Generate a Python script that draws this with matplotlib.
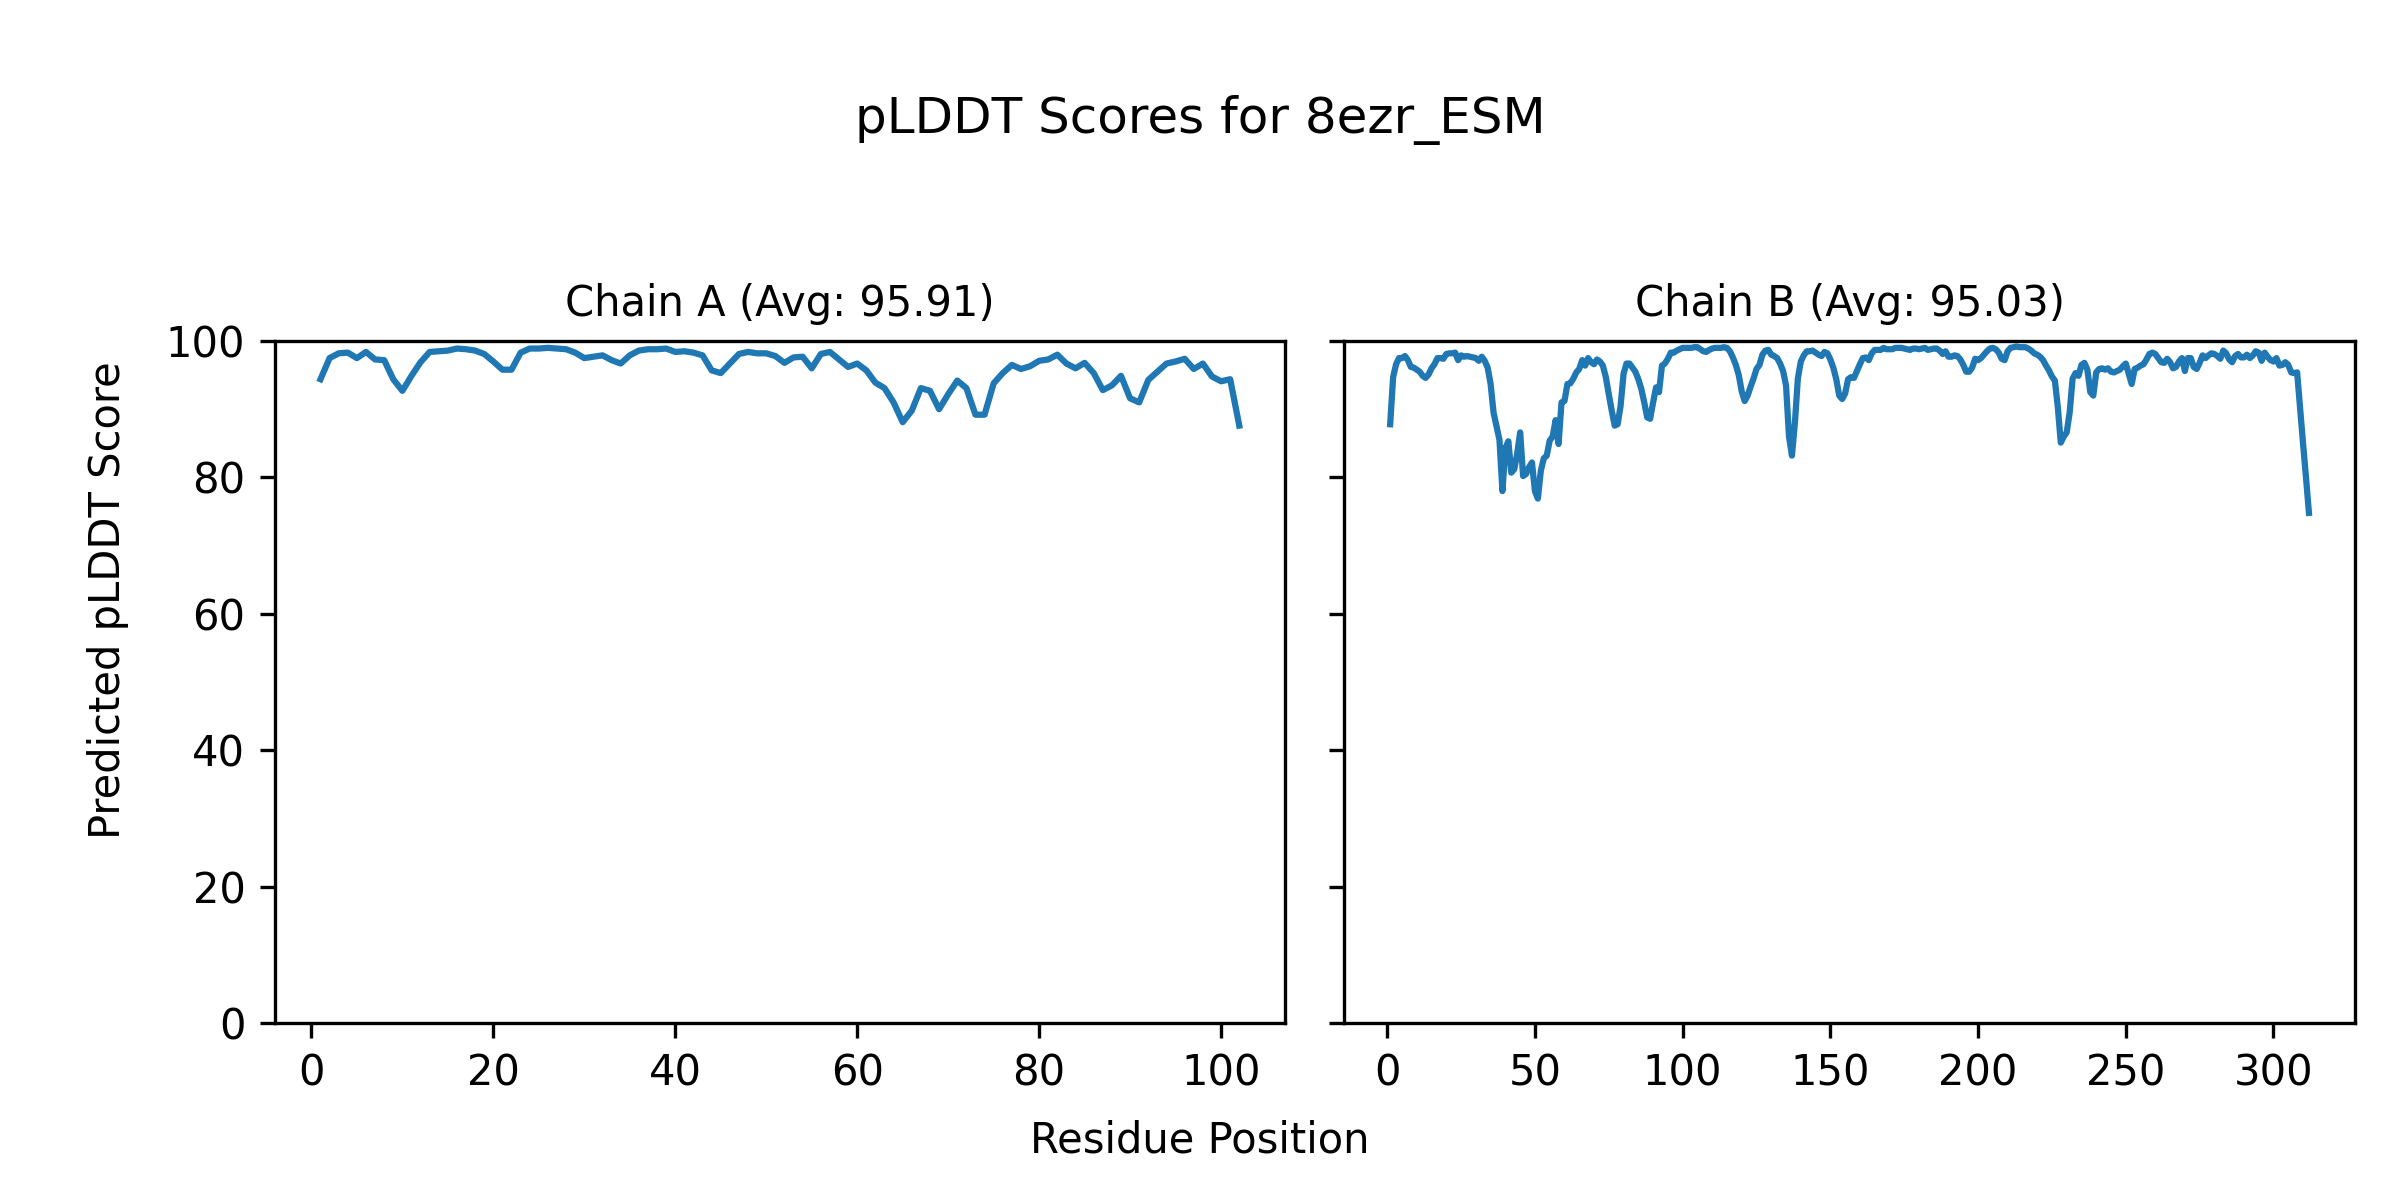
import matplotlib
matplotlib.use('Agg')
import matplotlib.pyplot as plt

# --- Data -------------------------------------------------------------------------------------------------------------

model_name = '8ezr_ESM'
chain_ids = ['A', 'B']
chain_avgs = [95.91, 95.03]

plddt_a = [
    94.4, 97.5, 98.2, 98.3, 97.5, 98.4, 97.3, 97.2, 94.4, 92.7,
    94.9, 96.9, 98.4, 98.5, 98.6, 98.9, 98.8, 98.6, 98.1, 97.0,
    95.8, 95.8, 98.3, 98.9, 98.9, 99.0, 98.9, 98.8, 98.3, 97.5,
    97.7, 97.9, 97.2, 96.7, 97.9, 98.6, 98.8, 98.8, 98.9, 98.4,
    98.5, 98.3, 97.9, 95.7, 95.3, 96.7, 98.1, 98.4, 98.2, 98.2,
    97.8, 96.8, 97.6, 97.7, 96.0, 98.1, 98.4, 97.3, 96.2, 96.7,
    95.7, 93.9, 93.1, 91.0, 88.1, 89.8, 93.1, 92.7, 90.0, 92.2,
    94.2, 93.1, 89.2, 89.2, 93.8, 95.3, 96.5, 95.9, 96.3, 97.1,
    97.3, 98.0, 96.7, 96.0, 96.8, 95.3, 92.8, 93.5, 94.9, 91.6,
    91.0, 94.3, 95.5, 96.7, 97.0, 97.4, 95.9, 96.7, 94.8, 94.1,
    94.4, 87.6,
]

plddt_b = [
    87.8, 94.7, 96.6, 97.5, 97.5, 97.8, 97.2, 96.2, 96.1, 95.8,
    95.5, 94.9, 94.6, 95.1, 96.0, 96.6, 97.5, 97.5, 97.4, 98.1,
    98.2, 98.2, 98.3, 97.2, 97.9, 97.7, 97.8, 97.7, 97.6, 97.5,
    97.1, 97.7, 97.1, 96.1, 93.7, 89.5, 87.5, 85.5, 78.0, 84.3,
    85.3, 80.7, 81.2, 83.5, 86.6, 80.2, 80.5, 81.5, 82.2, 78.0,
    76.9, 81.0, 82.8, 83.2, 85.4, 86.0, 88.4, 84.9, 91.0, 91.2,
    93.7, 93.8, 94.5, 95.4, 95.9, 97.2, 96.4, 97.5, 96.9, 96.6,
    97.3, 97.0, 96.4, 94.7, 92.2, 89.8, 87.6, 87.8, 90.5, 95.2,
    96.7, 96.7, 96.1, 95.5, 94.4, 93.0, 91.0, 88.8, 88.6, 91.0,
    93.2, 92.5, 96.4, 96.7, 97.4, 98.3, 98.3, 98.6, 98.8, 99.0,
    99.0, 99.0, 99.0, 99.1, 99.1, 98.8, 98.5, 98.4, 98.7, 98.9,
    99.0, 99.0, 99.0, 99.1, 99.0, 98.5, 97.6, 96.5, 95.0, 92.6,
    91.2, 92.0, 93.3, 94.5, 95.9, 96.5, 98.0, 98.6, 98.7, 98.0,
    97.8, 97.5, 96.7, 95.6, 93.5, 86.0, 83.2, 88.0, 94.5, 97.0,
    97.9, 98.5, 98.5, 98.6, 98.3, 98.0, 97.8, 98.4, 98.2, 97.3,
    96.1, 94.4, 92.0, 91.5, 92.3, 94.4, 94.7, 94.6, 95.6, 96.6,
    97.5, 97.6, 97.2, 98.2, 98.7, 98.7, 98.7, 99.0, 98.8, 98.8,
    98.8, 99.0, 99.0, 99.0, 98.9, 98.8, 98.7, 98.9, 98.9, 98.8,
    98.9, 99.0, 98.7, 98.8, 98.9, 98.9, 98.6, 98.1, 98.5, 97.7,
    97.7, 97.9, 97.8, 97.3, 96.5, 95.5, 95.5, 96.1, 97.4, 97.2,
    97.5, 98.0, 98.5, 98.9, 99.0, 98.8, 98.3, 97.4, 97.2, 98.5,
    99.0, 99.1, 99.2, 99.1, 99.1, 99.1, 98.9, 98.6, 98.2, 98.0,
    97.7, 97.2, 96.4, 95.7, 94.8, 94.2, 90.3, 85.1, 86.0, 86.6,
    89.5, 94.5, 95.3, 94.9, 96.5, 96.8, 95.8, 92.5, 92.0, 95.4,
    95.9, 96.0, 95.8, 96.0, 95.5, 95.4, 95.6, 95.8, 96.3, 96.7,
    95.2, 93.7, 95.9, 96.1, 96.4, 96.6, 97.3, 98.1, 98.3, 98.1,
    97.5, 96.9, 96.8, 97.4, 96.9, 96.0, 96.2, 97.0, 97.5, 95.6,
    97.5, 97.5, 96.2, 95.9, 96.8, 97.9, 97.5, 97.9, 98.2, 98.1,
    97.8, 97.4, 98.6, 98.2, 97.3, 96.9, 97.8, 98.1, 97.6, 97.6,
    98.0, 97.5, 97.9, 98.5, 98.3, 97.1, 98.3, 97.7, 97.2, 97.0,
    97.5, 96.4, 96.5, 96.9, 96.5, 95.4, 95.3, 95.4, 90.2, 85.0,
    80.0, 74.8,
]

chain_scores = [plddt_a, plddt_b]

# --- Plot -------------------------------------------------------------------------------------------------------------

fig, axes = plt.subplots(1, 2, figsize=(8, 4), dpi=300, sharey=True)
fig.subplots_adjust(left=0.1144, right=0.9812, bottom=0.1475, top=0.7158, wspace=0.0584)

for ax, cid, avg, scores in zip(axes, chain_ids, chain_avgs, chain_scores):
    positions = range(1, len(scores) + 1)
    ax.plot(positions, scores)
    ax.set_title(f'Chain {cid} (Avg: {avg:.2f})', fontsize=10)
    ax.set_ylim(0, 100)

fig.text(0.045, 0.5, 'Predicted pLDDT Score', ha='center', va='center', rotation=90)
fig.text(0.5, 0.0495, 'Residue Position', ha='center', va='center')
fig.suptitle(f'pLDDT Scores for {model_name}', fontsize=12, y=0.90, va='center')

plt.savefig('out.png', dpi=300)
